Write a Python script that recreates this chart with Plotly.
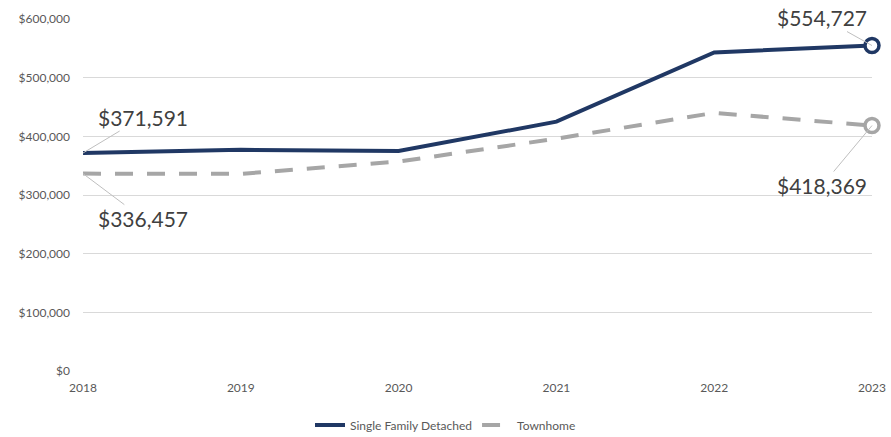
import plotly.graph_objects as go

years = [2018, 2019, 2020, 2021, 2022, 2023]
single_family = [371591, 377000, 375000, 425000, 543000, 554727]
townhome = [336457, 336000, 357000, 396000, 440000, 418369]
y_ticks = [0, 100000, 200000, 300000, 400000, 500000, 600000]

NAVY = "#203864"
GRAY = "#A6A6A6"
TXT = "#404040"
FONT = "Lato, Open Sans, sans-serif"

fig = go.Figure()
fig.add_trace(go.Scatter(
    x=years, y=single_family, mode="lines", name="Single Family Detached",
    line=dict(color=NAVY, width=4)))
fig.add_trace(go.Scatter(
    x=years, y=townhome, mode="lines", name="Townhome",
    line=dict(color=GRAY, width=4, dash="18px,14px")))
fig.add_trace(go.Scatter(
    x=[years[-1]], y=[single_family[-1]], mode="markers", showlegend=False,
    marker=dict(size=14, color="white", line=dict(color=NAVY, width=3.5)),
    cliponaxis=False, hoverinfo="skip"))
fig.add_trace(go.Scatter(
    x=[years[-1]], y=[townhome[-1]], mode="markers", showlegend=False,
    marker=dict(size=14, color="white", line=dict(color=GRAY, width=3.5)),
    cliponaxis=False, hoverinfo="skip"))

def label(x, y, ax, ay):
    fig.add_annotation(
        x=x, y=y, text=f"${y:,}", showarrow=True, arrowhead=0,
        arrowwidth=1, arrowcolor="#BFBFBF", ax=ax, ay=ay,
        font=dict(family=FONT, size=21, color=TXT))

label(years[0], single_family[0], 60, -36)
label(years[0], townhome[0], 60, 45)
label(years[-1], single_family[-1], -50, -28)
label(years[-1], townhome[-1], -50, 60)

fig.update_layout(
    width=891, height=437,
    margin=dict(l=83, r=19, t=19, b=66, autoexpand=False),
    paper_bgcolor="white", plot_bgcolor="white",
    font=dict(family=FONT, color="#595959", size=12),
    showlegend=True,
    legend=dict(orientation="h", x=0.5, xanchor="center", xref="container",
                y=12/437, yanchor="middle", yref="container",
                font=dict(size=12, color="#595959")),
)
fig.update_xaxes(
    range=[years[0], years[-1]], tickvals=years, ticktext=[str(y) for y in years],
    showgrid=False, zeroline=False, showline=False, ticks="",
    ticklabelstandoff=8,
    tickfont=dict(size=12, color="#595959"))
fig.update_yaxes(
    range=[0, 600000], tickvals=y_ticks, tickformat="$,.0f",
    showgrid=True, gridcolor="#D9D9D9", gridwidth=1, zeroline=False,
    showline=False, ticks="", ticklabelstandoff=12,
    tickfont=dict(size=12, color="#595959"))

fig.write_html("out.html")
